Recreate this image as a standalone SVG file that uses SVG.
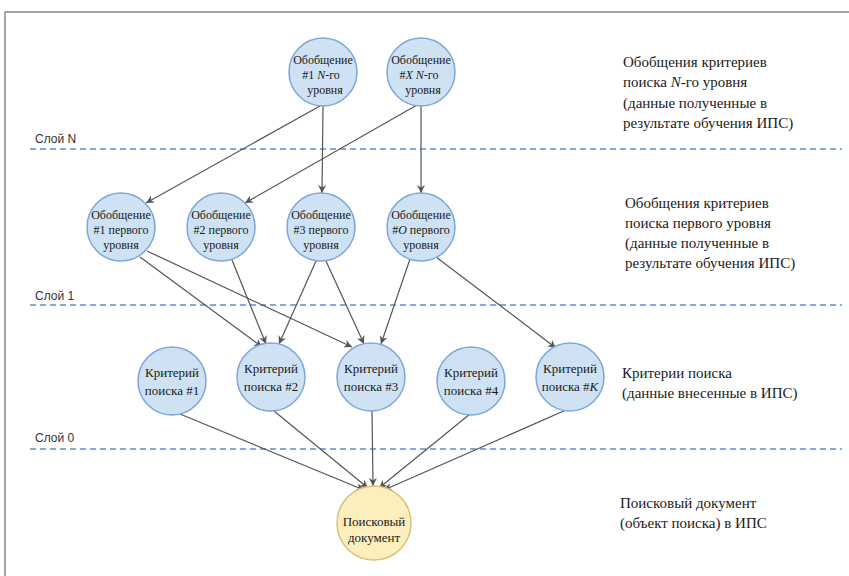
<svg xmlns="http://www.w3.org/2000/svg" width="849" height="576" viewBox="0 0 849 576">
<defs>
<marker id="arr" viewBox="0 0 10 10" refX="10" refY="5" markerWidth="8" markerHeight="8" markerUnits="userSpaceOnUse" orient="auto">
<path d="M0,0 L10,5 L0,10 L3,5 Z" fill="#555"/>
</marker>
</defs>
<style>
.bg{fill:#fff}
.frame{fill:none;stroke:#888;stroke-width:1.5}
.layer{stroke:#5b8fd0;stroke-width:1.6;stroke-dasharray:6 4;fill:none}
.lbl{font-family:"Liberation Sans",Arial,sans-serif;font-size:12px;fill:#333}
.n{fill:#cfe2f3;stroke:#7ea6d8;stroke-width:1.5}
.doc{fill:#fcefbd;stroke:#d9c17a;stroke-width:1.5}
.t{font-family:"Liberation Serif","DejaVu Serif","Times New Roman",serif;font-size:12px;fill:#1a1a1a;text-anchor:middle}
.tc{font-family:"Liberation Serif","DejaVu Serif","Times New Roman",serif;font-size:13px;fill:#1a1a1a;text-anchor:middle}
.side{font-family:"Liberation Serif","DejaVu Serif","Times New Roman",serif;font-size:15px;fill:#1a1a1a}
.e{stroke:#555;stroke-width:1.2;fill:none;marker-end:url(#arr)}
</style>
<rect class="bg" x="0" y="0" width="849" height="576"/>
<path class="frame" d="M5,576 L5,12 L849,12"/>

<g id="layers">
<line class="layer" x1="30" y1="149" x2="842" y2="149"/>
<line class="layer" x1="30" y1="305" x2="842" y2="305"/>
<line class="layer" x1="30" y1="449" x2="842" y2="449"/>
<text class="lbl" x="35" y="143">Слой N</text>
<text class="lbl" x="35" y="300">Слой 1</text>
<text class="lbl" x="35" y="442">Слой 0</text>
</g>

<g id="connectors">
<line class="e" x1="320" y1="106" x2="146" y2="203"/>
<line class="e" x1="323" y1="106" x2="322" y2="193"/>
<line class="e" x1="417" y1="105" x2="245" y2="203"/>
<line class="e" x1="421" y1="105" x2="421" y2="193"/>

<line class="e" x1="140" y1="257" x2="262" y2="347"/>
<line class="e" x1="147" y1="251" x2="352" y2="347"/>
<line class="e" x1="232" y1="260" x2="266" y2="344"/>
<line class="e" x1="316" y1="261" x2="279" y2="344"/>
<line class="e" x1="326" y1="261" x2="364" y2="344"/>
<line class="e" x1="410" y1="259" x2="381" y2="344"/>
<line class="e" x1="436" y1="257" x2="556" y2="348"/>

<line class="e" x1="180" y1="414" x2="364" y2="490"/>
<line class="e" x1="274" y1="411" x2="368" y2="488"/>
<line class="e" x1="372" y1="411" x2="373" y2="486"/>
<line class="e" x1="470" y1="414" x2="379" y2="488"/>
<line class="e" x1="566" y1="410" x2="384" y2="490"/>
</g>

<g id="genN1">
<circle class="n" cx="323" cy="72" r="34"/>
<text class="t" x="323" y="64">Обобщение</text>
<text class="t" x="321" y="79">#1 <tspan font-style="italic">N</tspan>-го</text>
<text class="t" x="325" y="94">уровня</text>
</g>
<g id="genNX">
<circle class="n" cx="421" cy="72" r="34"/>
<text class="t" x="421" y="64">Обобщение</text>
<text class="t" x="419" y="79">#<tspan font-style="italic">X N</tspan>-го</text>
<text class="t" x="423" y="94">уровня</text>
</g>

<g id="gen1">
<circle class="n" cx="121" cy="227" r="34"/>
<text class="t" x="121" y="219">Обобщение</text>
<text class="t" x="121" y="234">#1 первого</text>
<text class="t" x="121" y="249">уровня</text>
</g>
<g id="gen2">
<circle class="n" cx="221" cy="227" r="34"/>
<text class="t" x="221" y="219">Обобщение</text>
<text class="t" x="221" y="234">#2 первого</text>
<text class="t" x="221" y="249">уровня</text>
</g>
<g id="gen3">
<circle class="n" cx="321" cy="227" r="34"/>
<text class="t" x="321" y="219">Обобщение</text>
<text class="t" x="321" y="234">#3 первого</text>
<text class="t" x="321" y="249">уровня</text>
</g>
<g id="genO">
<circle class="n" cx="421" cy="227" r="34"/>
<text class="t" x="421" y="219">Обобщение</text>
<text class="t" x="421" y="234">#<tspan font-style="italic">O</tspan> первого</text>
<text class="t" x="421" y="249">уровня</text>
</g>

<g id="crit1">
<circle class="n" cx="172" cy="381" r="34"/>
<text class="tc" x="172" y="377">Критерий</text>
<text class="tc" x="172" y="395">поиска #1</text>
</g>
<g id="crit2">
<circle class="n" cx="271" cy="377" r="34"/>
<text class="tc" x="271" y="373">Критерий</text>
<text class="tc" x="271" y="391">поиска #2</text>
</g>
<g id="crit3">
<circle class="n" cx="371" cy="377" r="34"/>
<text class="tc" x="371" y="373">Критерий</text>
<text class="tc" x="371" y="391">поиска #3</text>
</g>
<g id="crit4">
<circle class="n" cx="471" cy="381" r="34"/>
<text class="tc" x="471" y="377">Критерий</text>
<text class="tc" x="471" y="395">поиска #4</text>
</g>
<g id="critK">
<circle class="n" cx="570" cy="377" r="34"/>
<text class="tc" x="570" y="373">Критерий</text>
<text class="tc" x="570" y="391">поиска #<tspan font-style="italic">K</tspan></text>
</g>

<g id="doc">
<circle class="doc" cx="374" cy="523" r="37"/>
<text class="tc" x="374" y="526">Поисковый</text>
<text class="tc" x="374" y="542">документ</text>
</g>

<g id="descriptions">
<text class="side" x="623" y="67">Обобщения критериев</text>
<text class="side" x="623" y="87">поиска <tspan font-style="italic">N</tspan>-го уровня</text>
<text class="side" x="623" y="108">(данные полученные в</text>
<text class="side" x="623" y="128">результате обучения ИПС)</text>
<text class="side" x="625" y="208">Обобщения критериев</text>
<text class="side" x="625" y="228">поиска первого уровня</text>
<text class="side" x="625" y="248">(данные полученные в</text>
<text class="side" x="625" y="268">результате обучения ИПС)</text>
<text class="side" x="622" y="378">Критерии поиска</text>
<text class="side" x="622" y="398">(данные внесенные в ИПС)</text>
<text class="side" x="620" y="508">Поисковый документ</text>
<text class="side" x="620" y="528">(объект поиска) в ИПС</text>
</g>
</svg>
